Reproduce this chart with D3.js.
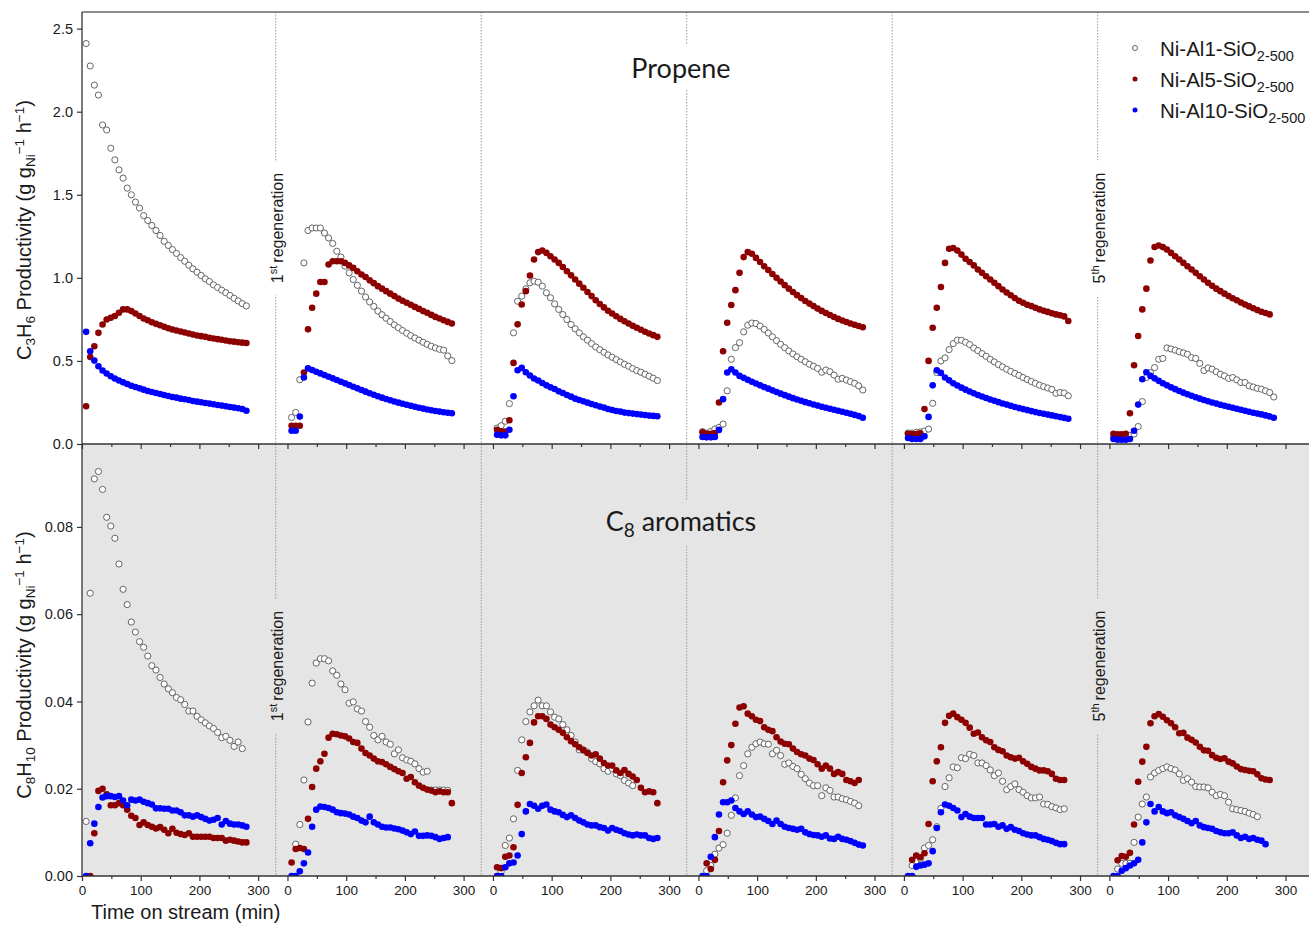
<!DOCTYPE html>
<html>
<head>
<meta charset="utf-8">
<script src="https://cdn.jsdelivr.net/npm/d3@7"></script>
<style>
    body { margin: 0; background: #fff; }
    svg text { font-family: "Liberation Sans", Arial, sans-serif; fill: #1a1a1a; }
</style>
</head>
<body>
<svg id="chart" width="1309" height="926"></svg>
<script>
// sampling times within each run (min)
const times = [7, 14, 21, 28, 35, 42, 49, 56, 63, 70, 77, 84, 91, 98, 105, 112, 119, 126, 133, 140,
    147, 154, 161, 168, 175, 182, 189, 196, 203, 210, 217, 224, 231, 238, 245, 252, 259, 266, 273, 280]
const xTicks = [0, 100, 200, 300]
const xMinorTicks = [50, 150, 250]
const yTicksTop = [0, 0.5, 1, 1.5, 2, 2.5]
const yTicksBottom = [0, 0.02, 0.04, 0.06, 0.08]
const catalysts = ['Ni-Al1-SiO', 'Ni-Al5-SiO', 'Ni-Al10-SiO']
const regenerations = [{ after: 0, num: '1', sup: 'st' }, { after: 4, num: '5', sup: 'th' }]

// C3H6 productivity, one array per run (fresh + 5 regenerations)
const propeneAl1 = [
    [2.41, 2.275, 2.16, 2.10, 1.92, 1.89, 1.78, 1.71, 1.65, 1.60, 1.54, 1.50, 1.456, 1.42, 1.375, 1.345, 1.315, 1.285, 1.255, 1.22, 1.195, 1.17, 1.147, 1.122, 1.10, 1.076, 1.054, 1.034, 1.014, 0.994, 0.978, 0.958, 0.942, 0.926, 0.91, 0.894, 0.877, 0.861, 0.845, 0.831],
    [0.16, 0.19, 0.387, 1.09, 1.285, 1.30, 1.30, 1.30, 1.27, 1.24, 1.207, 1.16, 1.125, 1.07, 1.03, 0.99, 0.955, 0.92, 0.885, 0.855, 0.828, 0.80, 0.778, 0.757, 0.737, 0.717, 0.70, 0.683, 0.667, 0.652, 0.638, 0.625, 0.612, 0.60, 0.588, 0.578, 0.57, 0.565, 0.53, 0.502],
    [0.096, 0.11, 0.137, 0.243, 0.669, 0.859, 0.89, 0.934, 0.97, 0.98, 0.974, 0.95, 0.91, 0.88, 0.843, 0.81, 0.779, 0.749, 0.719, 0.693, 0.669, 0.645, 0.625, 0.604, 0.584, 0.568, 0.552, 0.536, 0.522, 0.508, 0.494, 0.48, 0.468, 0.454, 0.442, 0.432, 0.42, 0.408, 0.396, 0.382],
    [0.075, 0.065, 0.075, 0.09, 0.10, 0.12, 0.32, 0.51, 0.58, 0.61, 0.675, 0.715, 0.728, 0.725, 0.71, 0.69, 0.668, 0.645, 0.622, 0.60, 0.58, 0.56, 0.542, 0.525, 0.51, 0.495, 0.48, 0.468, 0.455, 0.432, 0.445, 0.435, 0.415, 0.39, 0.395, 0.385, 0.375, 0.365, 0.35, 0.325],
    [0.066, 0.066, 0.07, 0.072, 0.078, 0.09, 0.245, 0.43, 0.50, 0.518, 0.568, 0.604, 0.625, 0.624, 0.612, 0.598, 0.578, 0.562, 0.544, 0.528, 0.51, 0.494, 0.478, 0.464, 0.45, 0.437, 0.425, 0.413, 0.40, 0.388, 0.376, 0.365, 0.354, 0.345, 0.337, 0.328, 0.305, 0.31, 0.307, 0.29],
    [0.045, 0.045, 0.045, 0.048, 0.052, 0.06, 0.105, 0.255, 0.40, 0.43, 0.46, 0.51, 0.515, 0.578, 0.572, 0.565, 0.555, 0.548, 0.54, 0.52, 0.515, 0.485, 0.442, 0.458, 0.45, 0.435, 0.42, 0.41, 0.395, 0.40, 0.386, 0.37, 0.37, 0.35, 0.343, 0.335, 0.33, 0.32, 0.31, 0.283],
]
const propeneAl5 = [
    [0.227, 0.524, 0.588, 0.669, 0.719, 0.749, 0.76, 0.77, 0.79, 0.81, 0.81, 0.80, 0.785, 0.77, 0.755, 0.745, 0.733, 0.723, 0.715, 0.705, 0.697, 0.689, 0.683, 0.677, 0.671, 0.665, 0.659, 0.653, 0.649, 0.645, 0.639, 0.635, 0.631, 0.627, 0.623, 0.618, 0.616, 0.612, 0.61, 0.608],
    [0.11, 0.11, 0.11, 0.43, 0.69, 0.82, 0.905, 0.975, 0.975, 1.08, 1.10, 1.10, 1.10, 1.09, 1.075, 1.06, 1.04, 1.02, 1.005, 0.985, 0.968, 0.95, 0.935, 0.92, 0.905, 0.89, 0.875, 0.862, 0.85, 0.838, 0.825, 0.813, 0.80, 0.79, 0.777, 0.765, 0.755, 0.745, 0.735, 0.725],
    [0.086, 0.076, 0.075, 0.143, 0.488, 0.72, 0.84, 0.92, 1.014, 1.11, 1.155, 1.165, 1.15, 1.13, 1.11, 1.09, 1.065, 1.04, 1.015, 0.99, 0.965, 0.94, 0.915, 0.89, 0.865, 0.843, 0.822, 0.802, 0.785, 0.769, 0.753, 0.739, 0.725, 0.712, 0.70, 0.688, 0.676, 0.665, 0.655, 0.645],
    [0.07, 0.062, 0.062, 0.066, 0.25, 0.558, 0.73, 0.837, 0.926, 1.03, 1.125, 1.155, 1.145, 1.12, 1.095, 1.07, 1.047, 1.023, 1.0, 0.978, 0.956, 0.935, 0.915, 0.896, 0.878, 0.861, 0.845, 0.83, 0.815, 0.801, 0.788, 0.776, 0.764, 0.753, 0.743, 0.734, 0.725, 0.717, 0.71, 0.703],
    [0.062, 0.06, 0.06, 0.065, 0.21, 0.50, 0.70, 0.82, 0.945, 1.09, 1.175, 1.18, 1.165, 1.14, 1.115, 1.095, 1.075, 1.05, 1.03, 1.01, 0.99, 0.97, 0.95, 0.93, 0.912, 0.895, 0.878, 0.862, 0.85, 0.838, 0.83, 0.82, 0.81, 0.802, 0.795, 0.787, 0.78, 0.775, 0.768, 0.74],
    [0.062, 0.058, 0.058, 0.062, 0.185, 0.474, 0.65, 0.81, 0.935, 1.104, 1.186, 1.195, 1.185, 1.17, 1.15, 1.13, 1.11, 1.09, 1.07, 1.05, 1.03, 1.01, 0.99, 0.97, 0.952, 0.935, 0.92, 0.905, 0.89, 0.877, 0.865, 0.852, 0.84, 0.828, 0.817, 0.806, 0.796, 0.788, 0.78],
]
const propeneAl10 = [
    [0.675, 0.558, 0.502, 0.468, 0.442, 0.424, 0.408, 0.394, 0.382, 0.371, 0.361, 0.351, 0.343, 0.335, 0.327, 0.319, 0.313, 0.307, 0.301, 0.295, 0.289, 0.283, 0.279, 0.273, 0.269, 0.265, 0.259, 0.255, 0.251, 0.247, 0.243, 0.239, 0.235, 0.231, 0.227, 0.223, 0.219, 0.215, 0.211, 0.20],
    [0.08, 0.08, 0.165, 0.40, 0.455, 0.445, 0.435, 0.425, 0.415, 0.405, 0.395, 0.385, 0.375, 0.365, 0.355, 0.345, 0.335, 0.325, 0.315, 0.305, 0.296, 0.287, 0.279, 0.271, 0.263, 0.256, 0.249, 0.242, 0.236, 0.23, 0.224, 0.218, 0.213, 0.208, 0.203, 0.199, 0.195, 0.191, 0.188, 0.185],
    [0.056, 0.052, 0.052, 0.086, 0.287, 0.444, 0.458, 0.432, 0.412, 0.394, 0.382, 0.367, 0.353, 0.341, 0.331, 0.317, 0.307, 0.295, 0.285, 0.273, 0.265, 0.257, 0.249, 0.241, 0.233, 0.225, 0.219, 0.211, 0.205, 0.199, 0.195, 0.189, 0.186, 0.183, 0.18, 0.177, 0.174, 0.171, 0.169, 0.167],
    [0.042, 0.04, 0.04, 0.042, 0.085, 0.27, 0.43, 0.45, 0.43, 0.41, 0.398, 0.386, 0.375, 0.364, 0.353, 0.343, 0.333, 0.323, 0.313, 0.303, 0.294, 0.285, 0.276, 0.268, 0.26, 0.252, 0.245, 0.238, 0.231, 0.224, 0.218, 0.212, 0.206, 0.2, 0.194, 0.188, 0.182, 0.175, 0.168, 0.158],
    [0.036, 0.03, 0.03, 0.03, 0.046, 0.163, 0.353, 0.444, 0.428, 0.40, 0.383, 0.366, 0.352, 0.339, 0.327, 0.316, 0.305, 0.295, 0.286, 0.277, 0.268, 0.26, 0.252, 0.244, 0.237, 0.23, 0.223, 0.216, 0.21, 0.204, 0.198, 0.192, 0.187, 0.182, 0.177, 0.172, 0.167, 0.162, 0.157, 0.152],
    [0.03, 0.026, 0.026, 0.026, 0.03, 0.08, 0.237, 0.39, 0.432, 0.41, 0.395, 0.38, 0.366, 0.353, 0.341, 0.33, 0.319, 0.309, 0.299, 0.29, 0.281, 0.273, 0.265, 0.257, 0.25, 0.243, 0.236, 0.23, 0.224, 0.218, 0.212, 0.206, 0.20, 0.194, 0.188, 0.183, 0.178, 0.172, 0.166, 0.158],
]

// C8H10 productivity
const aromAl1 = [
    [0.0125, 0.0648, 0.091, 0.0927, 0.0886, 0.0822, 0.0802, 0.0774, 0.0715, 0.0657, 0.0622, 0.0582, 0.0559, 0.0537, 0.0524, 0.0504, 0.0482, 0.0472, 0.0455, 0.044, 0.0429, 0.042, 0.0409, 0.0404, 0.0393, 0.0378, 0.0378, 0.0366, 0.0358, 0.0351, 0.0344, 0.0338, 0.0329, 0.0317, 0.032, 0.0311, 0.0297, 0.0307, 0.0292],
    [null, 0.0073, 0.0118, 0.022, 0.0353, 0.0442, 0.0488, 0.0498, 0.0498, 0.0493, 0.047, 0.046, 0.044, 0.0427, 0.0396, 0.0399, 0.0383, 0.0378, 0.0354, 0.0341, 0.0322, 0.0312, 0.032, 0.0307, 0.0302, 0.028, 0.0289, 0.0271, 0.0266, 0.0263, 0.0257, 0.0246, 0.0238, 0.024, 0.0197, 0.0197, 0.0197, 0.0197, 0.0196],
    [null, 0.001, 0.007, 0.0087, 0.0131, 0.0242, 0.0312, 0.0354, 0.0376, 0.039, 0.0403, 0.039, 0.039, 0.0376, 0.0364, 0.036, 0.0347, 0.0335, 0.0322, 0.0307, 0.0289, 0.0288, 0.0284, 0.0269, 0.0262, 0.0257, 0.0246, 0.024, 0.0246, 0.0234, 0.023, 0.0219, 0.0213, 0.0207],
    [null, 0.0012, 0.0024, 0.005, 0.0064, 0.0072, 0.0098, 0.0139, 0.0179, 0.023, 0.0253, 0.028, 0.0295, 0.0303, 0.0307, 0.0303, 0.0302, 0.028, 0.0288, 0.0276, 0.0256, 0.0259, 0.0251, 0.0246, 0.0233, 0.0223, 0.0213, 0.0207, 0.0207, 0.0184, 0.0202, 0.0196, 0.0181, 0.0181, 0.0177, 0.0175, 0.0171, 0.0167, 0.0161],
    [null, 0.0024, 0.0035, 0.004, 0.0064, 0.007, 0.0083, 0.0113, 0.0155, 0.0205, 0.0225, 0.025, 0.0248, 0.0271, 0.0269, 0.0279, 0.0276, 0.0259, 0.0259, 0.0253, 0.0243, 0.023, 0.0236, 0.0217, 0.0198, 0.0205, 0.0211, 0.0198, 0.0192, 0.0184, 0.0179, 0.0179, 0.0181, 0.0165, 0.0164, 0.0159, 0.0156, 0.0152, 0.0154],
    [null, 0.0016, 0.0029, 0.0029, 0.0029, 0.0077, 0.0135, 0.0165, 0.0181, 0.0227, 0.0236, 0.0242, 0.0246, 0.025, 0.0246, 0.0243, 0.0234, 0.0219, 0.0223, 0.0215, 0.0205, 0.0204, 0.0204, 0.0202, 0.0192, 0.0184, 0.0187, 0.0184, 0.0169, 0.0154, 0.0152, 0.015, 0.0148, 0.0144, 0.0141, 0.0136],
]
const aromAl5 = [
    [null, 0.0, 0.0098, 0.0195, 0.02, 0.0187, 0.0162, 0.0162, 0.0167, 0.0162, 0.0152, 0.0138, 0.0133, 0.0117, 0.0123, 0.0117, 0.0113, 0.0109, 0.0112, 0.0106, 0.0098, 0.0108, 0.0099, 0.0096, 0.0094, 0.0098, 0.009, 0.009, 0.009, 0.009, 0.009, 0.0087, 0.0087, 0.0087, 0.0081, 0.0083, 0.0081, 0.0079, 0.0077, 0.0077],
    [0.0031, 0.0062, 0.0064, 0.0062, 0.0131, 0.0204, 0.0246, 0.0263, 0.028, 0.0317, 0.0326, 0.0325, 0.0322, 0.032, 0.0315, 0.0307, 0.0305, 0.0292, 0.0282, 0.0276, 0.0269, 0.0263, 0.0261, 0.0256, 0.025, 0.0245, 0.024, 0.0236, 0.0223, 0.0227, 0.0215, 0.0207, 0.0202, 0.0198, 0.0196, 0.0192, 0.0194, 0.0192, 0.0192, 0.0167],
    [0.002, 0.0018, 0.0044, 0.0047, 0.0066, 0.0163, 0.0236, 0.0272, 0.0305, 0.0352, 0.0366, 0.0366, 0.036, 0.0347, 0.0341, 0.0335, 0.0328, 0.0318, 0.0309, 0.0302, 0.0295, 0.0289, 0.0282, 0.0276, 0.0279, 0.0269, 0.0259, 0.0253, 0.0253, 0.0242, 0.0236, 0.0243, 0.0234, 0.0228, 0.022, 0.0202, 0.0192, 0.0194, 0.0192, 0.0167],
    [null, 0.0029, 0.0016, 0.0037, 0.0103, 0.0215, 0.0265, 0.030, 0.0349, 0.0386, 0.0389, 0.0372, 0.0366, 0.0358, 0.0355, 0.0341, 0.0335, 0.0332, 0.0318, 0.0308, 0.0303, 0.0302, 0.0292, 0.0284, 0.0279, 0.0276, 0.0269, 0.0266, 0.0256, 0.0246, 0.0253, 0.0246, 0.0234, 0.0238, 0.0234, 0.022, 0.0217, 0.0213, 0.022],
    [null, 0.0037, 0.0047, 0.0043, 0.0052, 0.0119, 0.0217, 0.0263, 0.0295, 0.0351, 0.0367, 0.0372, 0.0364, 0.0358, 0.0351, 0.034, 0.0326, 0.0329, 0.0318, 0.0311, 0.0307, 0.0295, 0.0289, 0.0286, 0.0276, 0.0272, 0.0269, 0.0271, 0.0263, 0.0257, 0.025, 0.0246, 0.0242, 0.0242, 0.024, 0.0234, 0.0223, 0.022, 0.022],
    [null, 0.0036, 0.0046, 0.0044, 0.0053, 0.0118, 0.0216, 0.0262, 0.0296, 0.035, 0.0366, 0.0371, 0.0365, 0.0357, 0.035, 0.0341, 0.0327, 0.0328, 0.0317, 0.0312, 0.0306, 0.0296, 0.0288, 0.0287, 0.0277, 0.0271, 0.0268, 0.027, 0.0262, 0.0258, 0.0251, 0.0245, 0.0243, 0.0241, 0.024, 0.0233, 0.0224, 0.0221, 0.022],
]
const aromAl10 = [
    [0.0, 0.0075, 0.012, 0.0158, 0.018, 0.0183, 0.0183, 0.0181, 0.0183, 0.0173, 0.0162, 0.0175, 0.0173, 0.0175, 0.017, 0.0167, 0.0164, 0.0155, 0.0155, 0.0154, 0.0154, 0.015, 0.015, 0.0146, 0.0139, 0.0139, 0.0136, 0.0139, 0.0135, 0.0131, 0.0127, 0.0129, 0.0133, 0.0118, 0.0126, 0.012, 0.0118, 0.0118, 0.0116, 0.0113],
    [0, 0, 0.0011, 0.0029, 0.0054, 0.0113, 0.0152, 0.0159, 0.0158, 0.0156, 0.0152, 0.0146, 0.0144, 0.0143, 0.0141, 0.0136, 0.0133, 0.0127, 0.0123, 0.0136, 0.0123, 0.0118, 0.0113, 0.0111, 0.0111, 0.0109, 0.0107, 0.0104, 0.01, 0.0096, 0.0102, 0.0092, 0.0092, 0.0093, 0.0092, 0.0089, 0.0085, 0.0087, 0.0089],
    [0, 0, 0.002, 0.0029, 0.0031, 0.0047, 0.0096, 0.0148, 0.0165, 0.0161, 0.0154, 0.0161, 0.0164, 0.0152, 0.0148, 0.0146, 0.014, 0.0135, 0.0139, 0.0133, 0.0127, 0.0123, 0.0118, 0.0116, 0.0116, 0.0112, 0.011, 0.0104, 0.011, 0.0106, 0.0103, 0.0098, 0.0095, 0.0093, 0.0095, 0.0093, 0.0093, 0.0087, 0.0085, 0.0087],
    [0, 0, 0.0044, 0.0089, 0.0141, 0.0169, 0.0169, 0.0173, 0.0156, 0.0148, 0.0142, 0.0148, 0.0141, 0.0135, 0.0136, 0.0131, 0.0126, 0.0119, 0.0127, 0.0119, 0.0113, 0.011, 0.0108, 0.0106, 0.0108, 0.01, 0.0096, 0.0094, 0.0093, 0.009, 0.0093, 0.0086, 0.0085, 0.009, 0.0085, 0.0083, 0.008, 0.0076, 0.0072, 0.007],
    [0, 0, 0.0021, 0.0024, 0.0026, 0.0029, 0.0057, 0.011, 0.0146, 0.0164, 0.0161, 0.0156, 0.015, 0.0135, 0.0142, 0.0136, 0.0133, 0.0133, 0.0133, 0.0118, 0.0118, 0.0119, 0.0113, 0.0116, 0.0108, 0.0112, 0.0106, 0.0103, 0.0098, 0.0095, 0.0093, 0.0093, 0.0089, 0.0085, 0.0083, 0.008, 0.0076, 0.0073, 0.0073],
    [0, 0, 0.0012, 0.0018, 0.0024, 0.0029, 0.0037, 0.0077, 0.0123, 0.0165, 0.0148, 0.0158, 0.0148, 0.0144, 0.0146, 0.0139, 0.0135, 0.0131, 0.0126, 0.0121, 0.0126, 0.0116, 0.0112, 0.011, 0.0108, 0.0103, 0.01, 0.0098, 0.0098, 0.01, 0.0093, 0.0087, 0.009, 0.0085, 0.0087, 0.0083, 0.0081, 0.0073],
]

const svg = d3.select('#chart')
const plotLeft = 82, plotRight = 1309, plotTop = 12, plotMid = 444, plotBottom = 876
const fills = ['#ffffff', '#8c0000', '#0000ff']
const strokes = ['#555', 'none', 'none']
const axisColor = '#333'

// one x scale per run, broken axis
const segDomains = [[0, 330], [-20, 330], [-20, 330], [-20, 330], [-20, 330], [-20, 340]]
const totalMin = d3.sum(segDomains, d => d[1] - d[0])
let acc = plotLeft
const xs = segDomains.map(d => {
    const w = (d[1] - d[0]) / totalMin * (plotRight - plotLeft)
    const s = d3.scaleLinear().domain(d).range([acc, acc + w])
    acc += w
    return s
})

const yTop = d3.scaleLinear().domain([0, 2.6]).range([plotMid, plotTop])
const yBot = d3.scaleLinear().domain([0, 0.099]).range([plotBottom, plotMid])

const panels = [
    { y: yTop, y0: plotTop, y1: plotMid, bg: '#ffffff', series: [propeneAl1, propeneAl5, propeneAl10], ticks: yTicksTop, fmt: d3.format('.1f'), regenY: 228 },
    { y: yBot, y0: plotMid, y1: plotBottom, bg: '#e5e5e5', series: [aromAl1, aromAl5, aromAl10], ticks: yTicksBottom, fmt: d3.format('.2f'), regenY: 666 },
]

const defs = svg.append('defs')
panels.forEach((p, i) => {
    defs.append('clipPath').attr('id', 'clip' + i)
        .append('rect').attr('x', plotLeft).attr('y', p.y0).attr('width', plotRight - plotLeft).attr('height', p.y1 - p.y0)
    svg.append('rect').attr('x', plotLeft).attr('y', p.y0).attr('width', plotRight - plotLeft).attr('height', p.y1 - p.y0).attr('fill', p.bg)
})

// run separators
const boundaries = xs.slice(0, -1).map(s => s.range()[1])
svg.append('g').selectAll('line').data(boundaries).join('line')
    .attr('x1', d => d).attr('x2', d => d).attr('y1', plotTop).attr('y2', plotBottom)
    .attr('stroke', '#9a9a9a').attr('stroke-width', 1).attr('stroke-dasharray', '1.5,1.5')

function maskedText(g, bg, padX, padY) {
    const b = g.select('text').node().getBBox()
    g.insert('rect', 'text').attr('x', b.x - padX).attr('y', b.y - padY)
        .attr('width', b.width + 2 * padX).attr('height', b.height + 2 * padY).attr('fill', bg)
}

// regeneration labels
panels.forEach(p => {
    regenerations.forEach(r => {
        const g = svg.append('g').attr('transform', `translate(${boundaries[r.after] + 1.5},${p.regenY}) rotate(-90)`)
        const t = g.append('text').attr('text-anchor', 'middle').attr('dy', '0.35em').style('font-size', '16px')
        t.append('tspan').text(r.num)
        t.append('tspan').attr('baseline-shift', '6px').style('font-size', '11px').text(r.sup)
        t.append('tspan').attr('dx', 3).text('regeneration')
        maskedText(g, p.bg, 12, 1)
    })
})

// panel titles
const titleX = 681
const t1 = svg.append('g')
t1.append('text').attr('x', titleX).attr('y', 78).attr('text-anchor', 'middle')
    .style('font-family', 'Lato, "Open Sans", sans-serif').style('font-size', '27px').text('Propene')
maskedText(t1, '#ffffff', 6, 6)
const t2 = svg.append('g')
const t2t = t2.append('text').attr('x', titleX).attr('y', 531).attr('text-anchor', 'middle')
    .style('font-family', 'Lato, "Open Sans", sans-serif').style('font-size', '27px')
t2t.append('tspan').text('C')
t2t.append('tspan').attr('baseline-shift', '-6px').style('font-size', '19px').text('8')
t2t.append('tspan').text(' aromatics')
maskedText(t2, '#e5e5e5', 6, 4)

// points
panels.forEach((p, pi) => {
    const g = svg.append('g').attr('clip-path', `url(#clip${pi})`)
    p.series.forEach((ser, si) => {
        ser.forEach((run, ri) => {
            const pts = run.map((v, j) => ({ t: times[j], v })).filter(d => d.v !== null)
            g.append('g').selectAll('circle').data(pts).join('circle')
                .attr('cx', d => xs[ri](d.t))
                .attr('cy', d => p.y(d.v))
                .attr('r', si === 0 ? 3.1 : 3.3)
                .attr('fill', fills[si])
                .attr('stroke', strokes[si])
                .attr('stroke-width', 0.9)
        })
    })
})

// axes
function styleAxis(size) {
    return g => {
        g.select('.domain').remove()
        g.selectAll('.tick line').attr('stroke', axisColor).attr('stroke-width', 1.2)
        g.selectAll('.tick text').attr('fill', '#1a1a1a').style('font-size', size + 'px')
            .style('font-family', '"Liberation Sans", Arial, sans-serif')
    }
}

xs.forEach(s => {
    ;[plotMid, plotBottom].forEach(yPos => {
        svg.append('g').attr('transform', `translate(0,${yPos})`)
            .call(d3.axisBottom(s).tickValues(xTicks).tickSize(5).tickPadding(4)
                .tickFormat(yPos === plotBottom ? d3.format('d') : ''))
            .call(styleAxis(13.5))
        svg.append('g').attr('transform', `translate(0,${yPos})`)
            .call(d3.axisBottom(s).tickValues(xMinorTicks).tickSize(3).tickFormat(''))
            .call(styleAxis(13.5))
    })
})

panels.forEach(p => {
    svg.append('g').attr('transform', `translate(${plotLeft},0)`)
        .call(d3.axisLeft(p.y).tickValues(p.ticks).tickSize(5).tickPadding(4).tickFormat(p.fmt))
        .call(styleAxis(14.5))
})

// frame lines
svg.append('line').attr('x1', plotLeft).attr('x2', plotRight).attr('y1', plotTop).attr('y2', plotTop).attr('stroke', '#666').attr('stroke-width', 1.5)
;[plotMid, plotBottom].forEach(yPos => {
    svg.append('line').attr('x1', plotLeft).attr('x2', plotRight).attr('y1', yPos).attr('y2', yPos).attr('stroke', axisColor).attr('stroke-width', 1.3)
})
svg.append('line').attr('x1', plotLeft).attr('x2', plotLeft).attr('y1', plotTop).attr('y2', plotBottom).attr('stroke', axisColor).attr('stroke-width', 1.3)

// axis titles
function yTitle(cy, c, h) {
    const t = svg.append('text').attr('transform', `translate(31,${cy}) rotate(-90)`)
        .attr('text-anchor', 'middle').style('font-size', '20px')
    const sub = (s) => t.append('tspan').attr('baseline-shift', '-4px').style('font-size', '13.5px').text(s)
    const sup = (s) => t.append('tspan').attr('baseline-shift', '7px').style('font-size', '13.5px').text(s)
    t.append('tspan').text('C'); sub(c)
    t.append('tspan').text('H'); sub(h)
    t.append('tspan').text(' Productivity (g g'); sub('Ni'); sup('\u22121')
    t.append('tspan').text(' h'); sup('\u22121')
    t.append('tspan').text(')')
}
yTitle(230, '3', '6')
yTitle(665, '8', '10')

svg.append('text').attr('x', 91).attr('y', 919).style('font-size', '20px').text('Time on stream (min)')

// legend
const legend = svg.append('g')
catalysts.forEach((name, i) => {
    const y = 48 + i * 31
    legend.append('circle').attr('cx', 1135).attr('cy', y).attr('r', 2.5)
        .attr('fill', fills[i]).attr('stroke', strokes[i]).attr('stroke-width', 0.9)
    const t = legend.append('text').attr('x', 1160).attr('y', y + 8).style('font-size', '20.5px')
    t.append('tspan').text(name)
    t.append('tspan').attr('baseline-shift', '-5px').style('font-size', '14.5px').text('2-500')
})
</script>
</body>
</html>
